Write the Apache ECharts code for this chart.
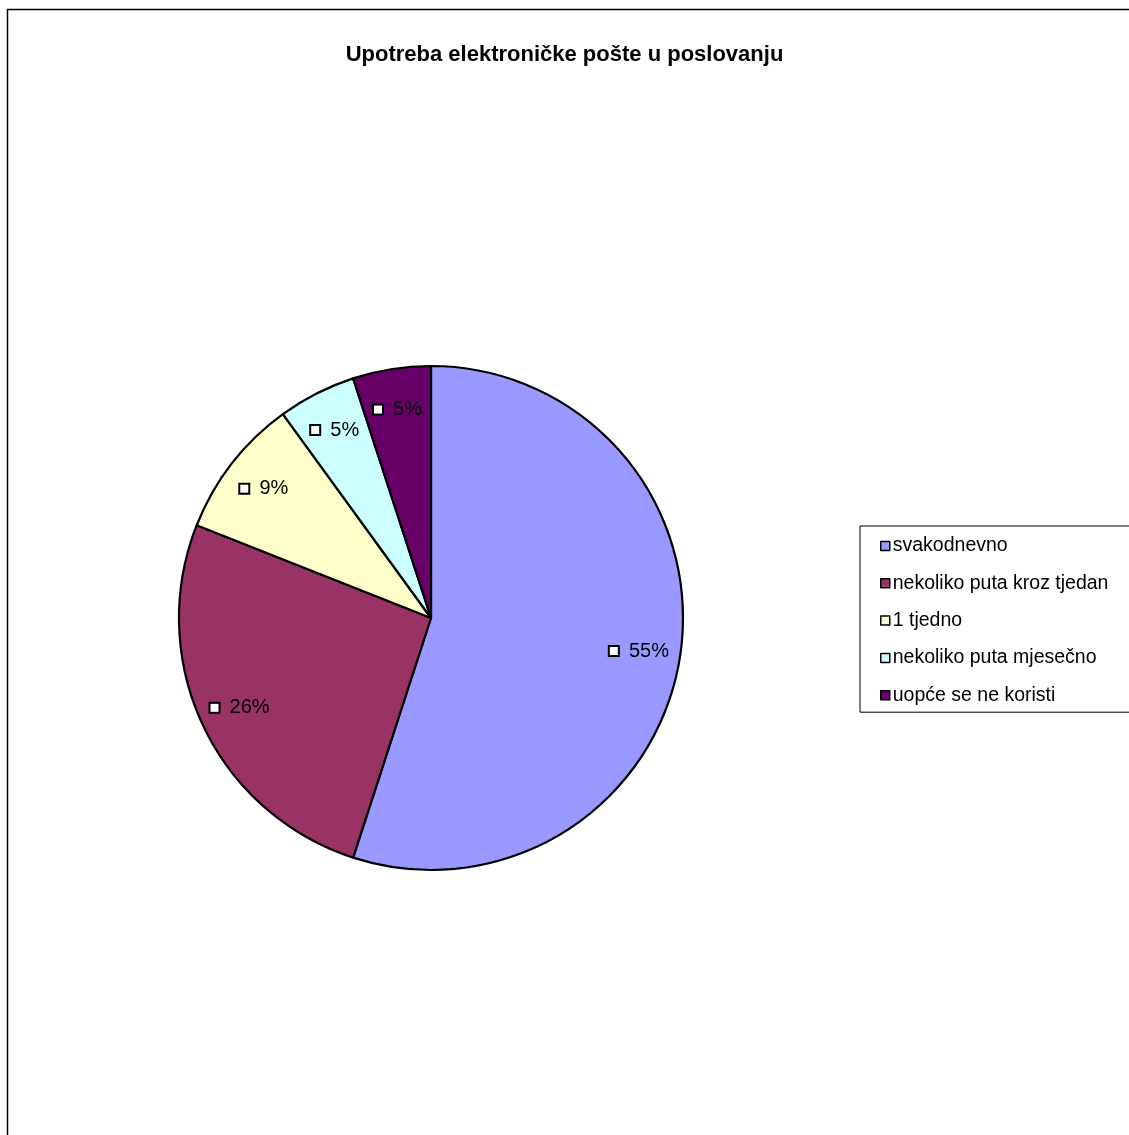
<!DOCTYPE html>
<html>
<head>
<meta charset="utf-8">
<script src="https://cdn.jsdelivr.net/npm/echarts@6/dist/echarts.min.js"></script>
<style>
  html, body { margin: 0; padding: 0; background: #fff; }
  #chart { width: 1129px; height: 1135px; }
</style>
</head>
<body>
<div id="chart"></div>
<script>
// Email usage in business: share of respondents per frequency
const categories = [
  'svakodnevno',
  'nekoliko puta kroz tjedan',
  '1 tjedno',
  'nekoliko puta mjesečno',
  'uopće se ne koristi'
];
const shares = [55, 26, 9, 5, 5];
const colors = ['#9999FF', '#993366', '#FFFFCC', '#CCFFFF', '#660066'];

const FONT = '"Liberation Sans", Arial, sans-serif';
const pieData = categories.map((name, i) => ({
  name: name,
  value: shares[i],
  itemStyle: { color: colors[i] }
}));

const chart = echarts.init(document.getElementById('chart'), null, { renderer: 'canvas' });

chart.setOption({
  backgroundColor: '#ffffff',
  animation: false,
  color: colors,
  title: {
    text: 'Upotreba elektroničke pošte u poslovanju',
    left: 'center',
    top: 39,
    textStyle: { fontFamily: FONT, fontSize: 22, fontWeight: 'bold', color: '#000' }
  },
  graphic: [{
    type: 'rect',
    shape: { x: 7.5, y: 9.5, width: 1200, height: 1200 },
    style: { fill: 'none', stroke: '#000', lineWidth: 1.5 },
    silent: true,
    z: -10
  }],
  legend: {
    orient: 'vertical',
    left: 860,
    top: 526,
    data: categories,
    icon: 'rect',
    itemWidth: 9,
    itemHeight: 9,
    itemGap: 17.3,
    padding: [10, 80, 7, 20],
    borderColor: '#000',
    borderWidth: 1,
    backgroundColor: '#fff',
    itemStyle: { borderColor: '#000', borderWidth: 1.5 },
    textStyle: { fontFamily: FONT, fontSize: 19.5, color: '#000', padding: [0, 0, 0, -2] },
    selectedMode: false
  },
  series: [
    {
      type: 'pie',
      center: [431, 618],
      radius: [0, 252],
      startAngle: 90,
      clockwise: true,
      data: pieData,
      label: { show: false },
      labelLine: { show: false },
      itemStyle: { borderColor: '#000', borderWidth: 2.2 },
      emphasis: { disabled: true },
      silent: true
    },
    {
      // transparent ring carrying the value labels near the outer edge
      type: 'pie',
      center: [431, 618],
      radius: [164, 252],
      startAngle: 90,
      clockwise: true,
      data: categories.map((name, i) => ({ name: name, value: shares[i] })),
      itemStyle: { color: 'rgba(0,0,0,0)', borderWidth: 0 },
      label: {
        show: true,
        position: 'inside',
        formatter: p => '{box|}  ' + p.value + '%',
        fontFamily: FONT,
        fontSize: 20,
        color: '#000',
        rich: {
          box: {
            width: 8, height: 8,
            backgroundColor: '#fff',
            borderColor: '#000',
            borderWidth: 2
          }
        }
      },
      labelLine: { show: false },
      emphasis: { disabled: true },
      silent: true,
      z: 3
    }
  ]
});
</script>
</body>
</html>
